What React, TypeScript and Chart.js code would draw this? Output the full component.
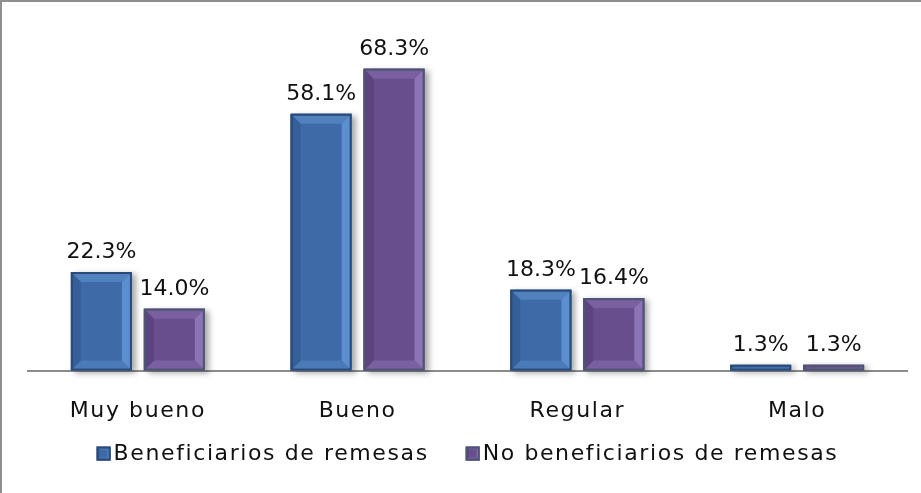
import { useEffect, useRef } from "react";
import { Chart, registerables } from "chart.js";

Chart.register(...registerables);

const categories = ["Muy bueno", "Bueno", "Regular", "Malo"];
const seriesNames = ["Beneficiarios de remesas", "No beneficiarios de remesas"];
const beneficiarios = [22.3, 58.1, 18.3, 1.3];
const noBeneficiarios = [14.0, 68.3, 16.4, 1.3];
const valueLabels = [
  ["22.3%", "58.1%", "18.3%", "1.3%"],
  ["14.0%", "68.3%", "16.4%", "1.3%"],
];

const FONT = "'DejaVu Sans', 'Liberation Sans', sans-serif";
const TEXT_SPACING = "1.6px";

type Pal = { face: string; top: string; bottom: string; left: string; right: string; border: string };
const palettes: Pal[] = [
  { face: "#3e6ba7", top: "#5281c0", bottom: "#4b7ab9", left: "#355f99", right: "#5b8fcf", border: "#2b4a75" },
  { face: "#694e8d", top: "#7a60a1", bottom: "#7961a1", left: "#5c4480", right: "#8d74b6", border: "#4c5672" },
];

function bevelRect(ctx: CanvasRenderingContext2D, x0: number, y0: number, x1: number, y1: number, bevel: number, p: Pal, shadow: boolean) {
  const w = x1 - x0;
  const h = y1 - y0;
  const b = Math.max(1, Math.min(bevel, w / 2 - 1, h / 2 - 0.5));
  ctx.save();
  if (shadow) {
    ctx.shadowColor = "rgba(0,0,0,0.35)";
    ctx.shadowBlur = 6;
    ctx.shadowOffsetX = 4;
    ctx.shadowOffsetY = 2;
  }
  ctx.fillStyle = p.face;
  ctx.fillRect(x0, y0, w, h);
  ctx.restore();
  ctx.save();
  const poly = (pts: number[][], color: string) => {
    ctx.beginPath();
    ctx.moveTo(pts[0][0], pts[0][1]);
    for (let i = 1; i < pts.length; i++) ctx.lineTo(pts[i][0], pts[i][1]);
    ctx.closePath();
    ctx.fillStyle = color;
    ctx.fill();
  };
  poly([[x0, y0], [x1, y0], [x1 - b, y0 + b], [x0 + b, y0 + b]], p.top);
  poly([[x0, y1], [x1, y1], [x1 - b, y1 - b], [x0 + b, y1 - b]], p.bottom);
  poly([[x0, y0], [x0 + b, y0 + b], [x0 + b, y1 - b], [x0, y1]], p.left);
  poly([[x1, y0], [x1 - b, y0 + b], [x1 - b, y1 - b], [x1, y1]], p.right);
  ctx.strokeStyle = p.border;
  ctx.lineWidth = 2;
  ctx.strokeRect(x0 + 1, y0 + 1, w - 2, h - 2);
  ctx.restore();
}

const bevelPlugin = {
  id: "bevelBars",
  beforeDraw(chart: any) {
    chart.ctx.letterSpacing = TEXT_SPACING;
  },
  afterDatasetsDraw(chart: any) {
    const ctx: CanvasRenderingContext2D = chart.ctx;
    chart.data.datasets.forEach((ds: any, di: number) => {
      const meta = chart.getDatasetMeta(di);
      meta.data.forEach((el: any, i: number) => {
        const { x, y, base, width } = el.getProps(["x", "y", "base", "width"], true);
        const x0 = x - width / 2;
        const x1 = x + width / 2;
        bevelRect(ctx, x0, Math.min(y, base), x1, Math.max(y, base), 10, palettes[di], true);
        ctx.save();
        ctx.letterSpacing = "0px";
        ctx.font = `22px ${FONT}`;
        ctx.fillStyle = "#111";
        ctx.textAlign = "center";
        ctx.textBaseline = "alphabetic";
        ctx.fillText(valueLabels[di][i], x, y - 14);
        ctx.restore();
      });
    });
  },
  afterDraw(chart: any) {
    const ctx: CanvasRenderingContext2D = chart.ctx;
    const area = chart.chartArea;
    ctx.save();
    ctx.letterSpacing = TEXT_SPACING;
    ctx.font = `22px ${FONT}`;
    const box = 14;
    const gapBoxText = 3;
    const gapItems = 37;
    const labels = chart.data.datasets.map((d: any) => d.label as string);
    const widths = labels.map((l: string) => ctx.measureText(l).width);
    const total = widths.reduce((s: number, w: number) => s + box + gapBoxText + w, 0) + gapItems * (labels.length - 1);
    let cx = (area.left + area.right) / 2 - total / 2;
    const cy = area.bottom + 83;
    labels.forEach((l: string, i: number) => {
      bevelRect(ctx, cx, cy - box / 2, cx + box, cy + box / 2, 3, palettes[i], false);
      ctx.fillStyle = "#111";
      ctx.textAlign = "left";
      ctx.textBaseline = "middle";
      ctx.fillText(l, cx + box + gapBoxText, cy + 1);
      cx += box + gapBoxText + widths[i] + gapItems;
    });
    ctx.restore();
    ctx.save();
    ctx.fillStyle = "#8e8e8e";
    ctx.fillRect(0, 0, 2, chart.height);
    ctx.fillRect(0, 0, chart.width, 2);
    ctx.restore();
  },
};

export default function App() {
  const ref = useRef<HTMLCanvasElement | null>(null);
  useEffect(() => {
    if (!ref.current) return;
    const chart = new Chart(ref.current, {
      type: "bar",
      data: {
        labels: categories,
        datasets: [
          { label: seriesNames[0], data: beneficiarios, backgroundColor: palettes[0].face, borderWidth: 0 },
          { label: seriesNames[1], data: noBeneficiarios, backgroundColor: palettes[1].face, borderWidth: 0 },
        ],
      },
      options: {
        animation: false,
        responsive: false,
        devicePixelRatio: 1,
        categoryPercentage: 0.664,
        barPercentage: 0.836,
        layout: { padding: { left: 28, right: 14, top: 17, bottom: 42 } },
        plugins: { legend: { display: false }, tooltip: { enabled: false } },
        scales: {
          x: {
            grid: { display: false, drawTicks: false },
            border: { display: true, color: "#8c8c8c", width: 2 },
            ticks: { font: { family: FONT, size: 22 }, color: "#111", padding: 27, autoSkip: false, maxRotation: 0 },
          },
          y: { display: false, min: 0, max: 80 },
        },
      },
      plugins: [bevelPlugin],
    });
    return () => chart.destroy();
  }, []);
  return (
    <div style={{ position: "fixed", left: 0, top: 0, width: 921, height: 493, background: "#fff" }}>
      <canvas ref={ref} width={921} height={493} />
    </div>
  );
}
